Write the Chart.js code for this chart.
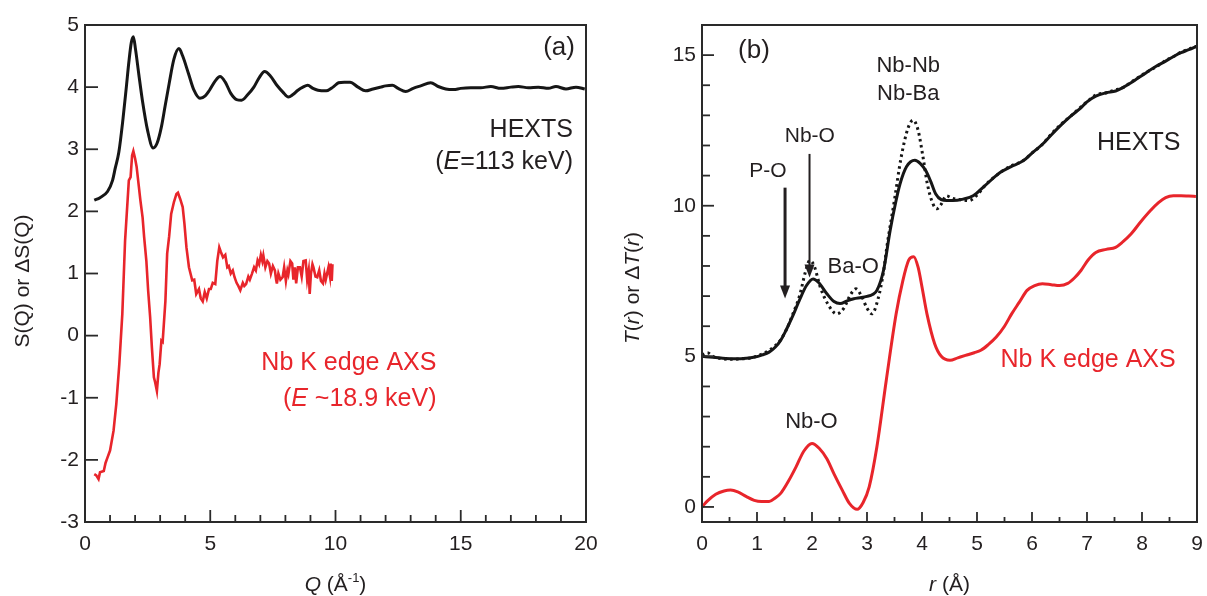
<!DOCTYPE html>
<html>
<head>
<meta charset="utf-8">
<script src="https://cdn.jsdelivr.net/npm/chart.js@4.4.1/dist/chart.umd.min.js"></script>
<style>
  html, body { margin: 0; padding: 0; background: #fff; }
  #wrap { position: relative; width: 1207px; height: 596px; overflow: hidden; }
  canvas { position: absolute; top: 0; }
  #ca { left: 0; }
  #cb { left: 600px; }
</style>
</head>
<body>
<div id="wrap">
  <canvas id="ca" width="600" height="596"></canvas>
  <canvas id="cb" width="607" height="596"></canvas>
</div>
<script>
// ---- panel (a): S(Q) ----
const qHexts = [0.37,0.6,0.9,1.1,1.21,1.35,1.52,1.65,1.75,1.85,1.93,2.02,2.15,2.29,2.5,2.72,2.88,3.05,3.2,3.36,3.55,3.75,3.9,4.13,4.35,4.59,4.8,4.97,5.2,5.39,5.6,5.82,6.05,6.25,6.5,6.74,6.95,7.17,7.4,7.66,7.9,8.12,8.3,8.5,8.7,8.89,9.1,9.3,9.63,9.9,10.12,10.35,10.58,10.9,11.2,11.5,11.8,12.0,12.27,12.5,12.8,13.1,13.4,13.8,14.1,14.4,14.72,15.0,15.4,15.8,16.2,16.6,17.0,17.3,17.7,18.1,18.5,18.8,19.2,19.6,19.95];
const sHexts = [2.18,2.22,2.32,2.5,2.7,2.95,3.5,4.0,4.4,4.72,4.81,4.6,4.2,3.79,3.3,3.02,3.1,3.36,3.7,4.06,4.45,4.62,4.5,4.22,3.95,3.82,3.86,3.95,4.1,4.17,4.08,3.9,3.8,3.79,3.88,4.0,4.15,4.25,4.18,4.03,3.92,3.84,3.88,3.95,4.0,4.03,3.98,3.95,3.94,4.0,4.07,4.08,4.08,4.0,3.94,3.97,4.0,4.02,4.03,3.98,3.93,3.98,4.02,4.07,4.01,3.97,3.96,3.98,3.99,3.99,4.01,3.98,4.0,4.01,3.99,4.0,3.98,4.01,3.97,4.0,3.97];

const qAxs = [0.37,0.45,0.54,0.6,0.75,0.82,0.9,1.0,1.14,1.25,1.37,1.49,1.6,1.75,1.82,1.88,1.93,2.0,2.06,2.15,2.21,2.3,2.36,2.45,2.52,2.6,2.67,2.75,2.8,2.87,2.93,2.98,3.05,3.1,3.21,3.28,3.36,3.44,3.55,3.65,3.71,3.8,3.9,3.97,4.05,4.15,4.28,4.36,4.44,4.55,4.62,4.7,4.78,4.86,4.95,5.02,5.1,5.2,5.28,5.36,5.42,5.51,5.6,5.68,5.74,5.82,5.9,5.97,6.05,6.12,6.2,6.3,6.36,6.43,6.52,6.58,6.66,6.75,6.82,6.89,6.95,7.02,7.08,7.12,7.2,7.28,7.35,7.42,7.5,7.58,7.63,7.66,7.72,7.8,7.89,7.95,8.02,8.08,8.12,8.2,8.27,8.32,8.38,8.43,8.5,8.58,8.65,8.72,8.81,8.87,8.93,8.97,9.02,9.08,9.12,9.2,9.27,9.35,9.42,9.5,9.56,9.61,9.66,9.72,9.78,9.81,9.85,9.88];
const sAxs = [-2.23,-2.25,-2.31,-2.2,-2.18,-2.05,-1.96,-1.85,-1.53,-1.1,-0.46,0.35,1.53,2.5,2.55,2.9,2.97,2.85,2.72,2.4,2.18,1.9,1.59,1.2,0.73,0.3,-0.19,-0.67,-0.75,-0.89,-0.6,-0.46,-0.08,-0.1,0.56,1.32,1.6,1.96,2.15,2.28,2.3,2.2,2.07,1.8,1.42,1.1,0.89,0.9,0.67,0.75,0.6,0.55,0.7,0.6,0.75,0.75,0.85,0.83,1.2,1.42,1.35,1.26,1.3,1.1,1.12,1.0,1.05,0.94,0.85,0.8,0.73,0.85,0.8,0.83,0.95,0.9,0.99,1.1,1.05,1.21,1.15,1.3,1.2,1.29,1.1,1.2,1.16,1.0,1.12,1.05,0.9,0.84,1.0,0.9,0.94,1.1,0.88,1.05,0.99,1.2,1.16,0.9,1.1,0.84,1.1,1.1,0.95,1.2,1.21,0.9,1.05,0.67,1.0,1.15,1.1,0.95,0.94,1.05,0.88,0.84,1.0,0.9,0.99,1.1,0.95,1.16,0.88,1.15];

const qTicks = [0, 5, 10, 15, 20];
const qMinor = [1,2,3,4,6,7,8,9,11,12,13,14,16,17,18,19];
const sTicks = [-3, -2, -1, 0, 1, 2, 3, 4, 5];

// ---- panel (b): T(r) ----
const rHexts = [0.0,0.2,0.52,0.75,0.94,1.1,1.22,1.33,1.43,1.55,1.64,1.78,1.9,2.02,2.12,2.27,2.4,2.51,2.65,2.76,2.9,3.0,3.1,3.18,3.3,3.42,3.52,3.6,3.72,3.87,3.97,4.07,4.16,4.25,4.35,4.45,4.56,4.75,4.93,5.14,5.42,5.62,5.84,6.0,6.19,6.35,6.54,6.72,6.89,7.0,7.16,7.35,7.52,7.65,7.8,8.07,8.25,8.43,8.6,8.71,8.85,9.0];
const tHexts = [5.0,4.97,4.92,4.93,4.97,5.05,5.14,5.3,5.53,5.95,6.3,6.9,7.35,7.57,7.45,7.08,6.82,6.75,6.85,6.91,6.95,6.99,7.05,7.19,7.85,9.17,10.1,10.72,11.3,11.51,11.4,11.16,10.8,10.39,10.2,10.17,10.17,10.22,10.33,10.66,11.1,11.3,11.49,11.75,12.04,12.35,12.7,13.0,13.25,13.45,13.64,13.75,13.81,13.92,14.08,14.41,14.62,14.8,14.98,15.08,15.18,15.3];

const rHextsDot = [0.0,0.1,0.2,0.35,0.52,0.75,0.94,1.1,1.22,1.33,1.43,1.55,1.64,1.78,1.88,1.96,2.04,2.15,2.3,2.45,2.58,2.7,2.8,2.9,3.0,3.09,3.2,3.3,3.36,3.5,3.62,3.75,3.84,3.93,4.02,4.1,4.2,4.27,4.35,4.44,4.55,4.7,4.85,5.0,5.14,5.42,5.62,5.84,6.0,6.19,6.35,6.54,6.72,6.89,7.0,7.16,7.35,7.52,7.65,7.8,8.07,8.25,8.43,8.6,8.71,8.85,9.0];
const tHextsDot = [5.05,5.12,5.0,4.92,4.9,4.92,4.97,5.08,5.2,5.35,5.55,5.95,6.35,7.05,7.8,8.18,8.0,7.3,6.7,6.41,6.6,7.05,7.24,7.0,6.6,6.41,6.9,7.8,8.62,10.2,11.6,12.6,12.84,12.5,11.6,10.7,10.06,9.9,10.05,10.33,10.25,10.2,10.17,10.35,10.66,11.1,11.32,11.5,11.75,12.04,12.38,12.72,13.0,13.28,13.45,13.68,13.75,13.85,13.92,14.1,14.42,14.6,14.82,14.98,15.1,15.2,15.3];

const rAxs = [0.0,0.1,0.25,0.4,0.52,0.65,0.8,0.95,1.08,1.22,1.33,1.43,1.57,1.71,1.85,2.0,2.13,2.27,2.4,2.55,2.68,2.82,2.93,3.04,3.18,3.35,3.53,3.65,3.76,3.85,3.93,4.0,4.09,4.23,4.35,4.51,4.65,4.79,4.95,5.07,5.2,5.35,5.5,5.63,5.77,5.91,6.05,6.19,6.35,6.5,6.65,6.77,6.89,7.02,7.16,7.35,7.52,7.65,7.8,7.97,8.15,8.3,8.43,8.57,8.71,8.85,8.98];
const tAxs = [0.0,0.2,0.42,0.53,0.56,0.5,0.35,0.22,0.18,0.18,0.3,0.45,0.85,1.33,1.85,2.11,1.95,1.6,1.1,0.56,0.12,-0.08,0.15,0.67,2.0,4.2,6.41,7.5,8.2,8.31,7.95,7.3,6.41,5.42,5.0,4.87,4.95,5.03,5.12,5.2,5.38,5.64,6.0,6.41,6.8,7.19,7.35,7.41,7.38,7.35,7.42,7.6,7.85,8.2,8.45,8.55,8.62,8.8,9.06,9.45,9.83,10.1,10.27,10.33,10.33,10.32,10.31];

const rTicks = [0, 1, 2, 3, 4, 5, 6, 7, 8, 9];
const rMinor = [0.5,1.5,2.5,3.5,4.5,5.5,6.5,7.5,8.5];
const tTicks = [0, 5, 10, 15];
const tMinor = [1,2,3,4,6,7,8,9,11,12,13,14];

const INK = '#231f20';
const RED = '#e8252b';
const FONT = '"Liberation Sans", Arial, sans-serif';

function pts(xs, ys) { return xs.map((v, i) => ({ x: v, y: ys[i] })); }

// draw text made of pieces: [text, style]  style: 'i' italic, 's' superscript
function rich(ctx, parts, x, y, size, color, align) {
  let w = 0;
  const m = parts.map(p => {
    const sz = p[1] === 's' ? Math.round(size * 0.62) : size;
    const f = (p[1] === 'i' ? 'italic ' : '') + sz + 'px ' + FONT;
    ctx.font = f;
    const pw = ctx.measureText(p[0]).width;
    w += pw;
    return { f, pw };
  });
  let cx = align === 'center' ? x - w / 2 : align === 'right' ? x - w : x;
  ctx.fillStyle = color;
  ctx.textAlign = 'left';
  ctx.textBaseline = 'middle';
  parts.forEach((p, i) => {
    ctx.font = m[i].f;
    ctx.fillText(p[0], cx, p[1] === 's' ? y - size * 0.3 : y);
    cx += m[i].pw;
  });
}

const framePlugin = {
  id: 'frame',
  afterDatasetsDraw(chart, args, o) {
    const { ctx, chartArea: a } = chart;
    const xs = chart.scales.x, ys = chart.scales.y;
    ctx.save();
    ctx.strokeStyle = '#2a2a2a';
    ctx.lineWidth = 2;
    ctx.strokeRect(a.left, a.top, a.right - a.left, a.bottom - a.top);
    ctx.lineWidth = 1.8;
    const xt = (vals, len) => vals.forEach(v => {
      const px = xs.getPixelForValue(v);
      ctx.beginPath(); ctx.moveTo(px, a.bottom); ctx.lineTo(px, a.bottom - len); ctx.stroke();
    });
    const yt = (vals, len) => vals.forEach(v => {
      const py = ys.getPixelForValue(v);
      ctx.beginPath(); ctx.moveTo(a.left, py); ctx.lineTo(a.left + len, py); ctx.stroke();
    });
    xt(o.xMajor, o.xMajorLen); xt(o.xMinor, o.xMinorLen);
    yt(o.yMajor, o.yMajorLen); yt(o.yMinor, o.yMinorLen);

    // arrows
    (o.arrows || []).forEach(ar => {
      const px = xs.getPixelForValue(ar.x);
      const p0 = ys.getPixelForValue(ar.from), p1 = ys.getPixelForValue(ar.to);
      ctx.strokeStyle = INK; ctx.fillStyle = INK; ctx.lineWidth = ar.w;
      ctx.beginPath(); ctx.moveTo(px, p0); ctx.lineTo(px, p1 - 10); ctx.stroke();
      ctx.beginPath(); ctx.moveTo(px - ar.head, p1 - 13); ctx.lineTo(px + ar.head, p1 - 13); ctx.lineTo(px, p1); ctx.closePath(); ctx.fill();
    });

    // annotations in data coordinates
    (o.labels || []).forEach(l => {
      rich(ctx, l.parts, xs.getPixelForValue(l.x), ys.getPixelForValue(l.y), l.size, l.color || INK, l.align || 'center');
    });

    // axis titles
    rich(ctx, o.xTitle, (a.left + a.right) / 2, a.bottom + 63, 21, INK, 'center');
    ctx.translate(o.yTitleX, o.yTitleY);
    ctx.rotate(-Math.PI / 2);
    rich(ctx, o.yTitle, 0, 0, 21, INK, 'center');
    ctx.restore();
  }
};

function axes(xmin, xmax, xTicks, ymin, ymax, yTicks, yWidth) {
  const tickFont = { family: FONT, size: 21 };
  return {
    x: {
      type: 'linear', min: xmin, max: xmax,
      afterBuildTicks: s => { s.ticks = xTicks.map(v => ({ value: v })); },
      afterFit: s => { s.height = 74; s.paddingLeft = 0; s.paddingRight = 0; },
      grid: { display: false, drawTicks: false },
      border: { display: false },
      ticks: { font: tickFont, color: INK, padding: 10, maxRotation: 0, autoSkip: false }
    },
    y: {
      type: 'linear', min: ymin, max: ymax,
      afterBuildTicks: s => { s.ticks = yTicks.map(v => ({ value: v })); },
      afterFit: s => { s.width = yWidth; s.paddingTop = 0; s.paddingBottom = 0; },
      grid: { display: false, drawTicks: false },
      border: { display: false },
      ticks: { font: tickFont, color: INK, padding: 6, autoSkip: false }
    }
  };
}

const common = {
  responsive: false,
  animation: false,
  events: [],
  elements: { point: { radius: 0 } }
};

// panel (a)
new Chart(document.getElementById('ca'), {
  type: 'line',
  data: {
    datasets: [
      { data: pts(qHexts, sHexts), borderColor: '#161616', borderWidth: 3, cubicInterpolationMode: 'monotone' },
      { data: pts(qAxs, sAxs), borderColor: RED, borderWidth: 2.6, tension: 0 }
    ]
  },
  options: {
    ...common,
    layout: { padding: { top: 25, right: 14, left: 0, bottom: 0 } },
    scales: axes(0, 20, qTicks, -3, 5, sTicks, 85),
    plugins: {
      legend: { display: false },
      tooltip: { enabled: false },
      frame: {
        xMajor: qTicks, xMinor: qMinor, xMajorLen: 12, xMinorLen: 7,
        yMajor: sTicks, yMinor: [], yMajorLen: 13, yMinorLen: 0,
        labels: [
          { x: 19.56, y: 4.63, parts: [['(a)']], size: 26, align: 'right' },
          { x: 19.48, y: 3.31, parts: [['HEXTS']], size: 25, align: 'right' },
          { x: 19.48, y: 2.79, parts: [['('], ['E', 'i'], ['=113 keV)']], size: 25, align: 'right' },
          { x: 14.03, y: -0.45, parts: [['Nb K edge AXS']], size: 25, color: RED, align: 'right' },
          { x: 14.03, y: -1.02, parts: [['('], ['E', 'i'], [' ~18.9 keV)']], size: 25, color: RED, align: 'right' }
        ],
        xTitle: [['Q', 'i'], [' (Å'], ['-1', 's'], [')']],
        yTitle: [['S(Q) or ΔS(Q)']],
        yTitleX: 23, yTitleY: 281
      }
    }
  },
  plugins: [framePlugin]
});

// panel (b)
new Chart(document.getElementById('cb'), {
  type: 'line',
  data: {
    datasets: [
      { data: pts(rHextsDot, tHextsDot), borderColor: '#161616', borderWidth: 3, borderDash: [2.5, 3.5], cubicInterpolationMode: 'monotone' },
      { data: pts(rHexts, tHexts), borderColor: '#161616', borderWidth: 3, cubicInterpolationMode: 'monotone' },
      { data: pts(rAxs, tAxs), borderColor: RED, borderWidth: 3, cubicInterpolationMode: 'monotone' }
    ]
  },
  options: {
    ...common,
    layout: { padding: { top: 25, right: 10, left: 0, bottom: 0 } },
    scales: axes(0, 9, rTicks, -0.5, 16, tTicks, 102),
    plugins: {
      legend: { display: false },
      tooltip: { enabled: false },
      frame: {
        xMajor: rTicks, xMinor: rMinor, xMajorLen: 10, xMinorLen: 5,
        yMajor: tTicks, yMinor: tMinor, yMajorLen: 12, yMinorLen: 8,
        arrows: [
          { x: 1.51, from: 10.6, to: 6.92, w: 3, head: 5 },
          { x: 1.955, from: 11.72, to: 7.62, w: 2, head: 5 }
        ],
        labels: [
          { x: 0.945, y: 15.13, parts: [['(b)']], size: 26 },
          { x: 3.75, y: 14.64, parts: [['Nb-Nb']], size: 22 },
          { x: 3.75, y: 13.71, parts: [['Nb-Ba']], size: 22 },
          { x: 1.96, y: 12.32, parts: [['Nb-O']], size: 21 },
          { x: 1.2, y: 11.16, parts: [['P-O']], size: 21 },
          { x: 2.75, y: 7.98, parts: [['Ba-O']], size: 22 },
          { x: 7.94, y: 12.09, parts: [['HEXTS']], size: 25 },
          { x: 7.02, y: 4.87, parts: [['Nb K edge AXS']], size: 25, color: RED },
          { x: 1.99, y: 2.81, parts: [['Nb-O']], size: 22 }
        ],
        xTitle: [['r', 'i'], [' (Å)']],
        yTitle: [['T', 'i'], ['('], ['r', 'i'], [') or Δ'], ['T', 'i'], ['('], ['r', 'i'], [')']],
        yTitleX: 33, yTitleY: 288
      }
    }
  },
  plugins: [framePlugin]
});
</script>
</body>
</html>
